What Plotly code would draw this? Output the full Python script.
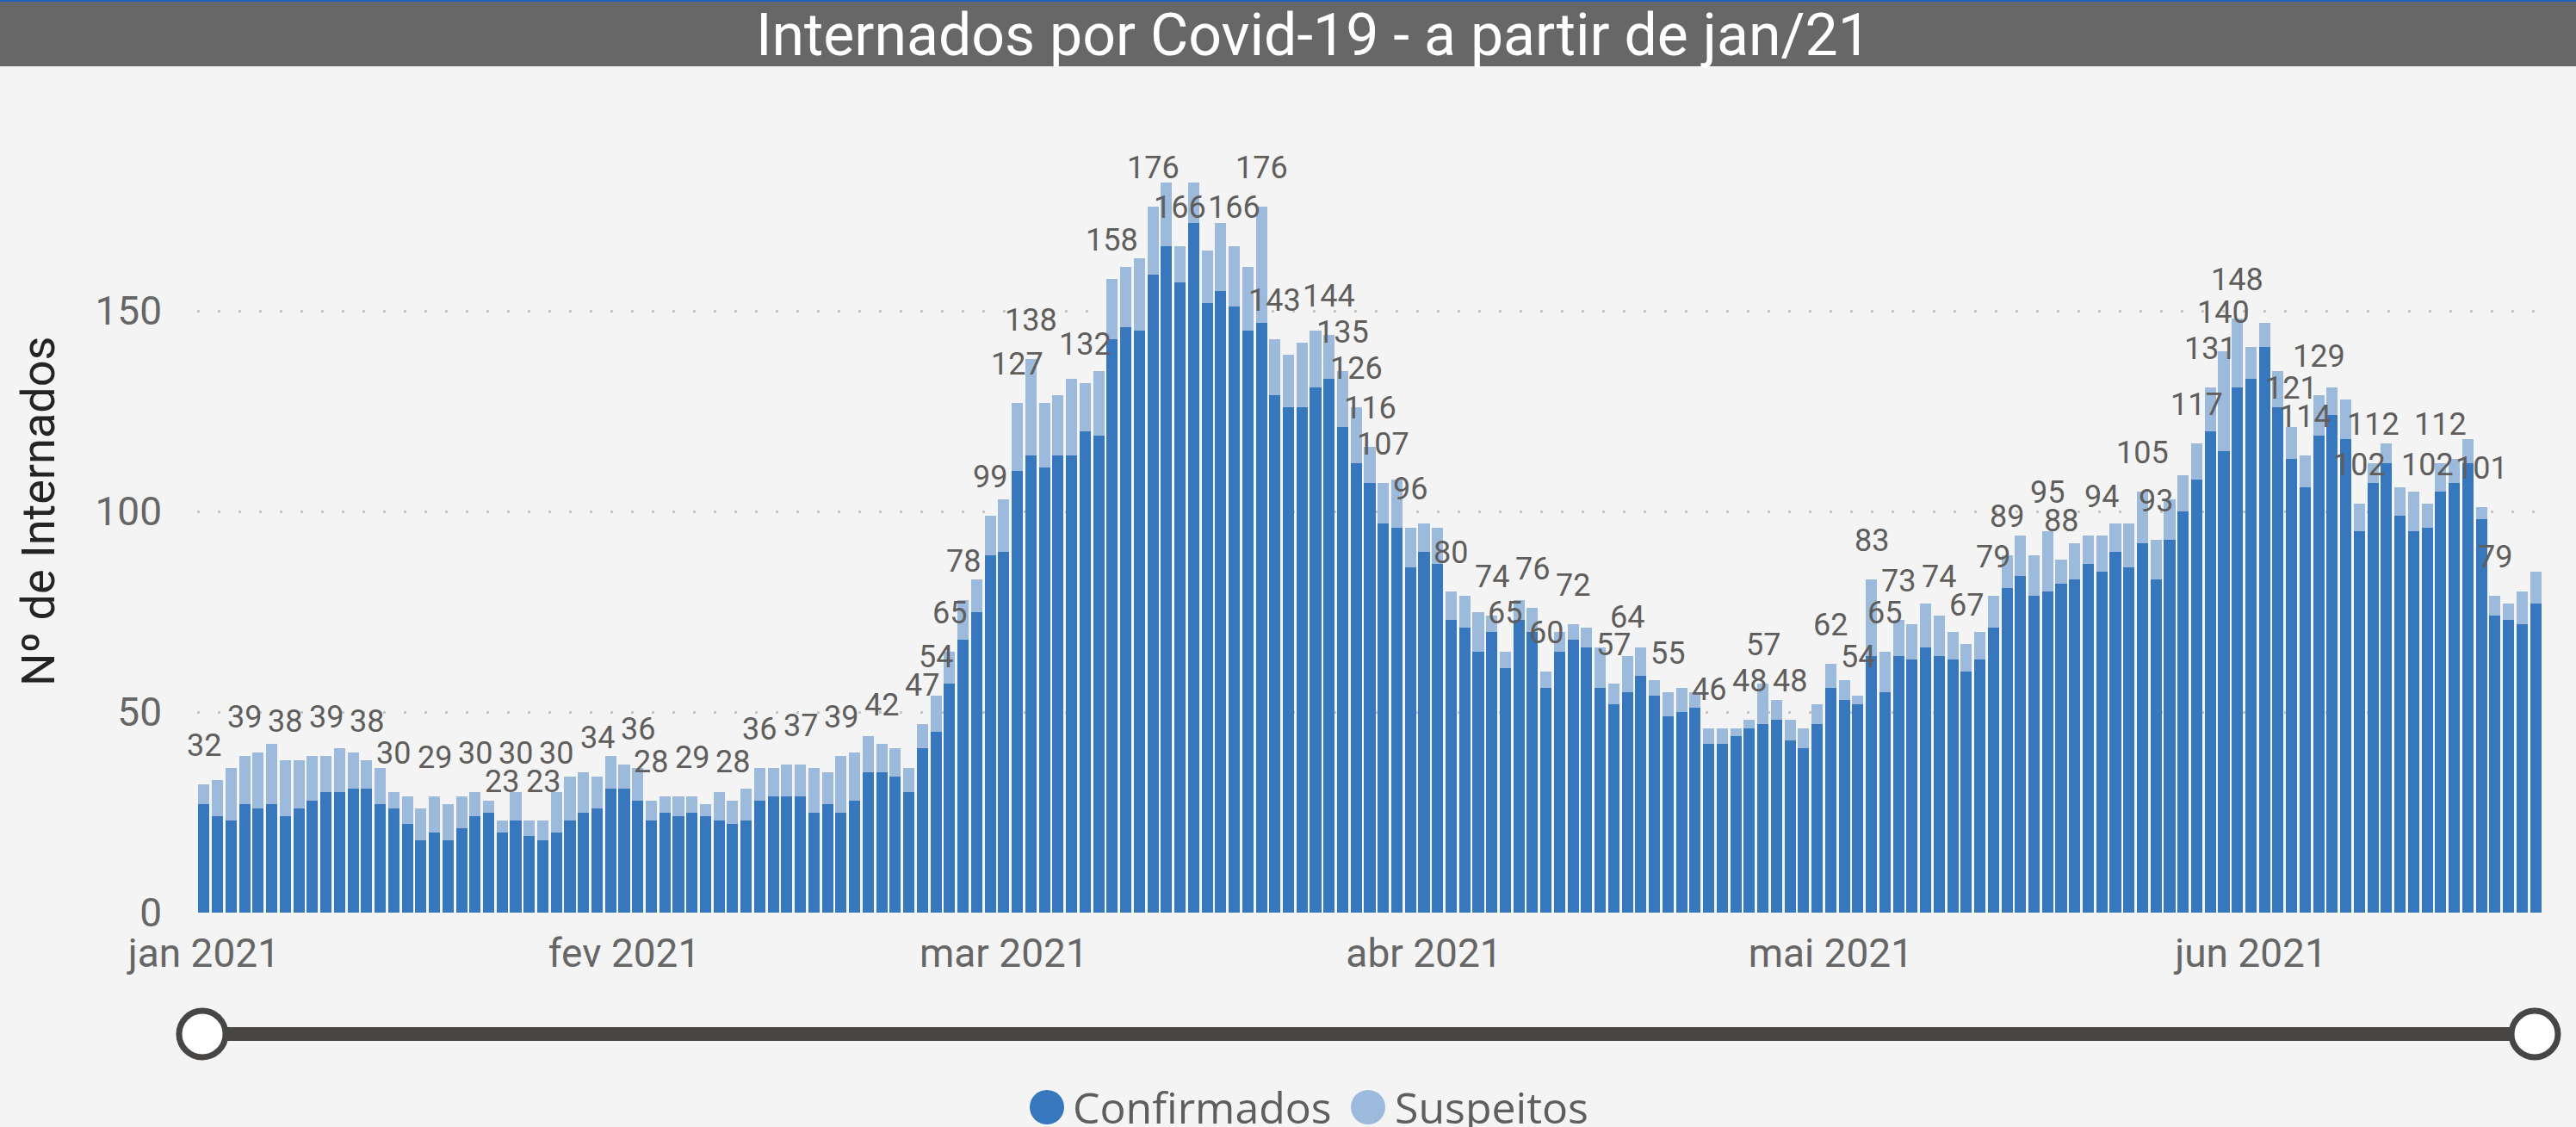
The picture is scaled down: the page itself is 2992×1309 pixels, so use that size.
import pandas as pd
import plotly.graph_objects as go

# ---------------- data ----------------
start_date = "2021-01-01"

confirmados = [
    27, 24, 23, 27, 26, 27, 24, 26, 28, 30, 30, 31, 31, 27, 26, 22, 18, 20, 18, 21,
    24, 25, 20, 23, 19, 18, 20, 23, 25, 26, 31, 31, 28, 23, 25, 24, 25, 24, 23, 22,
    23, 28, 29, 29, 29, 25, 27, 25, 28, 35, 35, 34, 30, 41, 45, 57, 68, 75, 89, 90,
    110, 114, 111, 114, 114, 120, 119, 143, 146, 145, 159, 166, 157, 172, 152, 155, 151, 145, 147, 129,
    126, 126, 131, 133, 121, 112, 107, 97, 96, 86, 90, 87, 73, 71, 65, 70, 61, 73, 70, 56,
    65, 68, 66, 56, 52, 55, 59, 54, 49, 50, 51, 42, 42, 44, 46, 47, 48, 43, 41, 47,
    56, 53, 52, 64, 55, 64, 63, 66, 64, 63, 60, 63, 71, 81, 84, 79, 80, 82, 83, 87,
    85, 90, 86, 92, 83, 93, 100, 108, 120, 115, 131, 133, 141, 126, 113, 106, 119, 124, 118, 95,
    107, 112, 99, 95, 96, 105, 107, 112, 98, 74, 73, 72, 77,
]

suspeitos = [
    5, 9, 13, 12, 14, 15, 14, 12, 11, 9, 11, 9, 7, 9, 4, 7, 8, 9, 9, 8,
    6, 3, 3, 7, 4, 5, 10, 11, 10, 8, 8, 6, 8, 5, 4, 5, 4, 3, 7, 6,
    8, 8, 7, 8, 8, 11, 8, 14, 12, 9, 7, 7, 6, 6, 9, 8, 10, 8, 10, 13,
    17, 24, 16, 15, 19, 12, 16, 15, 15, 18, 17, 16, 9, 10, 13, 17, 15, 16, 29, 14,
    13, 16, 14, 11, 14, 14, 9, 10, 12, 10, 7, 9, 7, 8, 10, 4, 4, 5, 6, 4,
    5, 4, 5, 10, 5, 9, 7, 4, 6, 6, 4, 4, 4, 2, 2, 10, 5, 5, 5, 5,
    6, 5, 2, 19, 10, 9, 9, 11, 10, 7, 7, 7, 8, 8, 10, 10, 15, 6, 9, 7,
    9, 7, 11, 13, 10, 10, 9, 9, 11, 25, 17, 8, 6, 9, 8, 8, 10, 7, 10, 7,
    5, 5, 7, 10, 6, 7, 6, 6, 3, 5, 4, 8, 8,
]

# days (1 = first day) that carry a total label in the original chart
dias_com_rotulo = [
    1, 4, 7, 10, 13, 15, 18, 21, 23, 24, 26, 27, 30, 33, 34, 37, 40, 42, 45, 48,
    51, 54, 55, 56, 57, 59, 61, 62, 66, 68, 71, 73, 77, 79, 80, 84, 85, 86, 87, 88,
    90, 93, 96, 97, 99, 100, 102, 105, 106, 109, 112, 115, 116, 118, 121, 123, 124, 125, 126, 129,
    131, 133, 134, 137, 138, 141, 144, 145, 148, 149, 150, 151, 155, 156, 157, 160, 161, 165, 166, 169,
    170,
]

month_ticks = ["2021-01-01", "2021-02-01", "2021-03-01", "2021-04-01", "2021-05-01", "2021-06-01"]
month_labels = ["jan 2021", "fev 2021", "mar 2021", "abr 2021", "mai 2021", "jun 2021"]
y_ticks = [0, 50, 100, 150]

# ---------------- styling ----------------
COL_CONF = "#3777BE"
COL_SUSP = "#9BBADC"
BG = "#F4F4F4"
TXT = "#666666"
SLIDER = "#484644"

W, H = 2992, 1309
L, R, T, B = 229, 39, 170, 249
PW = W - L - R
PH = H - T - B


def px_x(px):
    return (px - L) / PW


def px_y(py):
    return (H - B - py) / PH


dates = pd.date_range(start_date, periods=len(confirmados), freq="D")
totais = [c + s for c, s in zip(confirmados, suspeitos)]

fig = go.Figure()
fig.add_trace(go.Bar(x=dates, y=confirmados, name="Confirmados",
                     marker=dict(color=COL_CONF, line=dict(width=0)), showlegend=False))
fig.add_trace(go.Bar(x=dates, y=suspeitos, name="Suspeitos",
                     marker=dict(color=COL_SUSP, line=dict(width=0)), showlegend=False))

annotations = []
for d in dias_com_rotulo:
    annotations.append(dict(
        x=dates[d - 1], y=totais[d - 1], xref="x", yref="y",
        text=str(totais[d - 1]), showarrow=False,
        xanchor="center", yanchor="bottom", yshift=22,
        font=dict(family="Roboto", size=36, color="#605E5C"),
    ))

# title
annotations.append(dict(
    x=px_x(1525), y=px_y(41), xref="paper", yref="paper",
    text="Internados por Covid-19 - a partir de jan/21", showarrow=False,
    xanchor="center", yanchor="middle",
    font=dict(family="Roboto", size=68, color="#FFFFFF"),
))
# y axis title
annotations.append(dict(
    x=px_x(44), y=px_y(594), xref="paper", yref="paper",
    text="Nº de Internados", showarrow=False, textangle=-90,
    xanchor="center", yanchor="middle",
    font=dict(family="Roboto", size=54, color="#252423"),
))
# legend texts
annotations.append(dict(
    x=px_x(1244), y=px_y(1286), xref="paper", yref="paper",
    text="Confirmados", showarrow=False, xanchor="left", yanchor="middle",
    font=dict(family="Open Sans", size=50, color="#605E5C"),
))
annotations.append(dict(
    x=px_x(1618), y=px_y(1286), xref="paper", yref="paper",
    text="Suspeitos", showarrow=False, xanchor="left", yanchor="middle",
    font=dict(family="Open Sans", size=50, color="#605E5C"),
))

shapes = [
    # title band
    dict(type="rect", xref="paper", yref="paper", x0=px_x(0), x1=px_x(W),
         y0=px_y(77), y1=px_y(0), fillcolor="#676767", line=dict(width=0), layer="below"),
    dict(type="rect", xref="paper", yref="paper", x0=px_x(0), x1=px_x(W),
         y0=px_y(2), y1=px_y(0), fillcolor="#1F5FB7", line=dict(width=0)),
    # slider
    dict(type="line", xref="paper", yref="paper", x0=px_x(235), x1=px_x(2944),
         y0=px_y(1201), y1=px_y(1201), line=dict(color=SLIDER, width=16)),
    dict(type="circle", xref="paper", yref="paper", x0=px_x(235 - 27), x1=px_x(235 + 27),
         y0=px_y(1201 + 27), y1=px_y(1201 - 27), fillcolor="#FFFFFF", line=dict(color=SLIDER, width=7)),
    dict(type="circle", xref="paper", yref="paper", x0=px_x(2944 - 27), x1=px_x(2944 + 27),
         y0=px_y(1201 + 27), y1=px_y(1201 - 27), fillcolor="#FFFFFF", line=dict(color=SLIDER, width=7)),
    # legend markers
    dict(type="circle", xref="paper", yref="paper", x0=px_x(1196), x1=px_x(1236),
         y0=px_y(1306), y1=px_y(1266), fillcolor=COL_CONF, line=dict(width=0)),
    dict(type="circle", xref="paper", yref="paper", x0=px_x(1569), x1=px_x(1609),
         y0=px_y(1306), y1=px_y(1266), fillcolor=COL_SUSP, line=dict(width=0)),
]

half_day = pd.Timedelta(hours=12)
fig.update_layout(
    width=W, height=H,
    margin=dict(l=L, r=R, t=T, b=B, pad=0),
    paper_bgcolor=BG, plot_bgcolor=BG,
    barmode="stack", bargap=0.17,
    font=dict(family="Roboto", color=TXT),
    annotations=annotations, shapes=shapes,
    showlegend=False,
    xaxis=dict(
        type="date", range=[dates[0] - half_day, dates[-1] + half_day],
        tickvals=month_ticks, ticktext=month_labels,
        tickfont=dict(family="Roboto", size=46, color=TXT),
        showgrid=False, zeroline=False, showline=False, ticks="",
        ticklabelstandoff=16, fixedrange=True,
    ),
    yaxis=dict(
        range=[0, 191], tickvals=y_ticks,
        tickfont=dict(family="Roboto", size=46, color=TXT),
        showgrid=True, gridcolor="#C8C6C4", gridwidth=3, griddash="3px,21px",
        zeroline=False, showline=False, ticks="", ticklabelstandoff=40,
        fixedrange=True,
    ),
)

fig.write_html(
    "out.html",
    config={"displayModeBar": False},
    post_script="document.body.style.margin='0px';document.body.style.overflow='hidden';",
)
